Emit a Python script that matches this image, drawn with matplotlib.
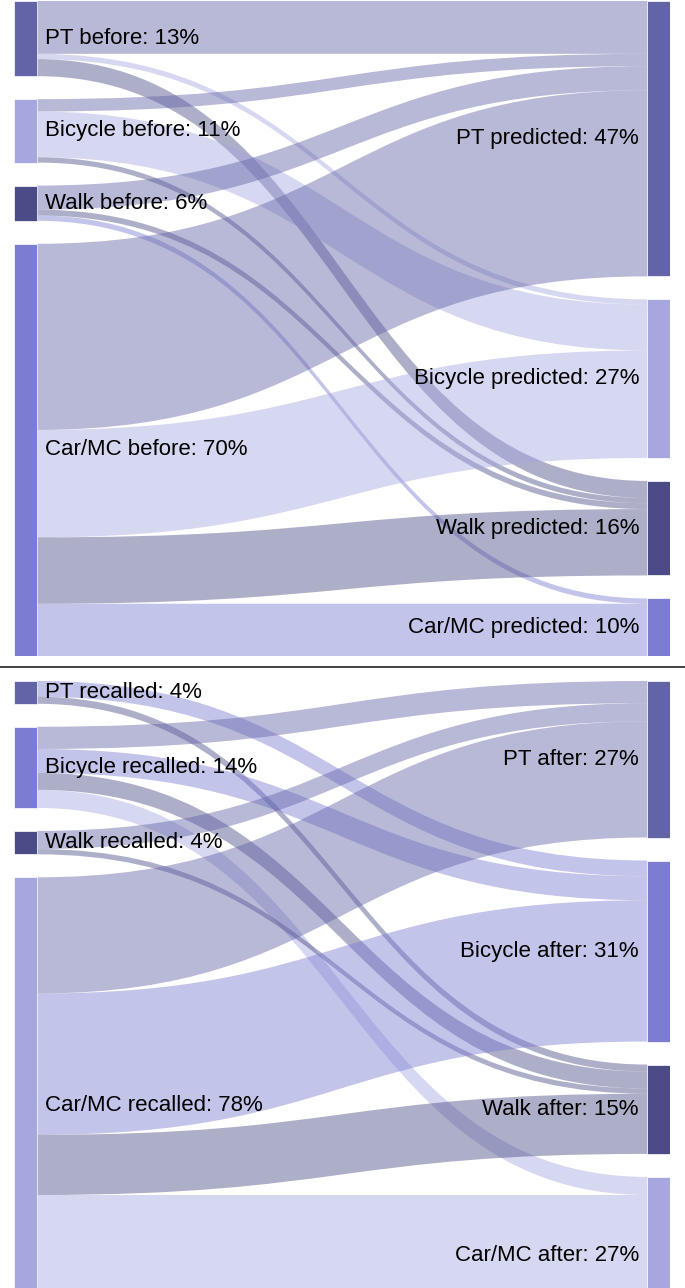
import matplotlib
matplotlib.use("Agg")
import matplotlib.pyplot as plt
from matplotlib.path import Path
from matplotlib.patches import PathPatch, Rectangle
from matplotlib.lines import Line2D

plt.rcParams['font.family'] = ['Liberation Sans', 'DejaVu Sans']

# node colours
PT_COL = '#6264a7'
DARK = '#4b4c87'
MEDIUM = '#7b7cd2'
LIGHT = '#a6a7df'

# ---- top panel: before -> predicted (share of respondents, %)
top_left_labels = ['PT before: 13%', 'Bicycle before: 11%', 'Walk before: 6%', 'Car/MC before: 70%']
top_right_labels = ['PT predicted: 47%', 'Bicycle predicted: 27%', 'Walk predicted: 16%', 'Car/MC predicted: 10%']
top_left_colors = [PT_COL, LIGHT, DARK, MEDIUM]
top_right_colors = [PT_COL, LIGHT, DARK, MEDIUM]
# rows = from (PT, Bicycle, Walk, Car/MC), cols = to (PT, Bicycle, Walk, Car/MC)
top_flows = [
    [9.0, 0.9, 2.9, 0.0],
    [2.1, 7.8, 0.9, 0.0],
    [4.1, 0.0, 1.0, 0.9],
    [31.7, 18.3, 11.3, 8.9],
]

# ---- bottom panel: recalled -> after
bottom_left_labels = ['PT recalled: 4%', 'Bicycle recalled: 14%', 'Walk recalled: 4%', 'Car/MC recalled: 78%']
bottom_right_labels = ['PT after: 27%', 'Bicycle after: 31%', 'Walk after: 15%', 'Car/MC after: 27%']
bottom_left_colors = [PT_COL, MEDIUM, DARK, LIGHT]
bottom_right_colors = [PT_COL, MEDIUM, DARK, LIGHT]
bottom_flows = [
    [0.0, 2.7, 1.2, 0.0],
    [3.8, 4.1, 2.9, 3.1],
    [3.1, 0.0, 0.9, 0.0],
    [19.9, 24.2, 10.3, 23.8],
]

W, H = 685, 1288
NODE_W = 23
PAD = 23
X_LEFT, X_RIGHT = 14, 670


def draw_sankey(fig, top_px, bot_px, flows, llabels, rlabels, lcols, rcols):
    panel_h = bot_px - top_px
    panel_w = X_RIGHT - X_LEFT
    ax = fig.add_axes([X_LEFT / W, 1 - bot_px / H, panel_w / W, panel_h / H])
    ax.set_xlim(0, panel_w)
    ax.set_ylim(panel_h, 0)
    ax.axis('off')

    n = len(flows)
    lsum = [sum(flows[i]) for i in range(n)]
    rsum = [sum(flows[i][j] for i in range(n)) for j in range(n)]
    total = max(sum(lsum), sum(rsum))
    k = (panel_h - (n - 1) * PAD) / total

    def stack(sizes):
        ys, y = [], 0
        for s in sizes:
            ys.append(y)
            y += s * k + PAD
        return ys

    ly = stack(lsum)
    ry = stack(rsum)
    x0, x1 = NODE_W, panel_w - NODE_W
    xm = (x0 + x1) / 2

    lout = list(ly)
    for i in range(n):
        for j in range(n):
            v = flows[i][j]
            if v <= 0:
                continue
            # incoming offset on the right follows the source order
            t0 = ry[j] + sum(flows[a][j] for a in range(i)) * k
            s0 = lout[i]
            h = v * k
            lout[i] += h
            verts = [(x0, s0), (xm, s0), (xm, t0), (x1, t0),
                     (x1, t0 + h), (xm, t0 + h), (xm, s0 + h), (x0, s0 + h), (x0, s0)]
            codes = [Path.MOVETO, Path.CURVE4, Path.CURVE4, Path.CURVE4,
                     Path.LINETO, Path.CURVE4, Path.CURVE4, Path.CURVE4, Path.CLOSEPOLY]
            ax.add_patch(PathPatch(Path(verts, codes), facecolor=rcols[j], alpha=0.45,
                                   lw=0, zorder=1))

    for i in range(n):
        ax.add_patch(Rectangle((0, ly[i]), NODE_W, lsum[i] * k, facecolor=lcols[i],
                               edgecolor='white', lw=0.5, zorder=2))
        ax.text(NODE_W + 8, ly[i] + lsum[i] * k / 2, llabels[i], ha='left', va='center',
                fontsize=16, color='black', zorder=3)
        ax.add_patch(Rectangle((x1, ry[i]), NODE_W, rsum[i] * k, facecolor=rcols[i],
                               edgecolor='white', lw=0.5, zorder=2))
        ax.text(x1 - 8, ry[i] + rsum[i] * k / 2, rlabels[i], ha='right', va='center',
                fontsize=16, color='black', zorder=3)


fig = plt.figure(figsize=(W / 100, H / 100), dpi=100)
draw_sankey(fig, 1, 656, top_flows, top_left_labels, top_right_labels,
            top_left_colors, top_right_colors)
# the lower diagram runs past the bottom edge of the picture
draw_sankey(fig, 681, 1334, bottom_flows, bottom_left_labels, bottom_right_labels,
            bottom_left_colors, bottom_right_colors)

fig.add_artist(Line2D([0, 1], [1 - 667 / H, 1 - 667 / H], color='#222222', lw=1.2,
                      transform=fig.transFigure))

fig.savefig('out.png', dpi=100, facecolor='white')
